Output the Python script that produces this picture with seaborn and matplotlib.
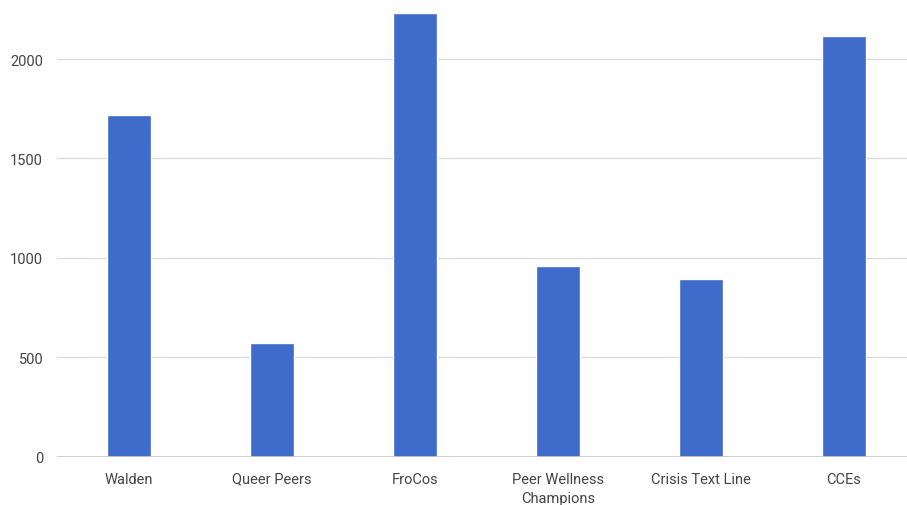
import matplotlib
matplotlib.use("Agg")
import matplotlib.pyplot as plt
import seaborn as sns
import pandas as pd

categories = ["Walden", "Queer Peers", "FroCos", "Peer Wellness\nChampions", "Crisis Text Line", "CCEs"]
values = [1717, 571, 2233, 960, 892, 2117]
yticks = [0, 500, 1000, 1500, 2000]

sns.set_theme(style="white")
plt.rcParams['font.family'] = ['Roboto', 'DejaVu Sans']

df = pd.DataFrame({"category": categories, "value": values})

fig = plt.figure(figsize=(9.07, 5.06), dpi=100)
ax = fig.add_axes([57/907, 48.5/506, 1 - 57/907, 1 - 48.5/506])

sns.barplot(data=df, x="category", y="value", color="#3f6bca", width=0.31,
            saturation=1, ax=ax, zorder=3)

ax.set_ylim(0, 2302)
ax.set_xlim(-0.503, (907 - 129) / 143)
ax.set_yticks(yticks)
ax.set_yticklabels([str(t) for t in yticks])
ax.grid(axis="y", color="#dcdcdc", linewidth=1, zorder=0)
ax.grid(axis="x", visible=False)
ax.axhline(0, color="#c8c8c8", linewidth=1.2, zorder=4)
for s in ax.spines.values():
    s.set_visible(False)
ax.set_xlabel("")
ax.set_ylabel("")
ax.tick_params(axis="y", length=0, pad=10, labelsize=10.5, labelcolor="#444444")
ax.tick_params(axis="x", length=0, pad=11, labelsize=10.5, labelcolor="#444444")
for lbl in ax.get_xticklabels():
    lbl.set_linespacing(1.45)

fig.savefig("out.png", dpi=100)
